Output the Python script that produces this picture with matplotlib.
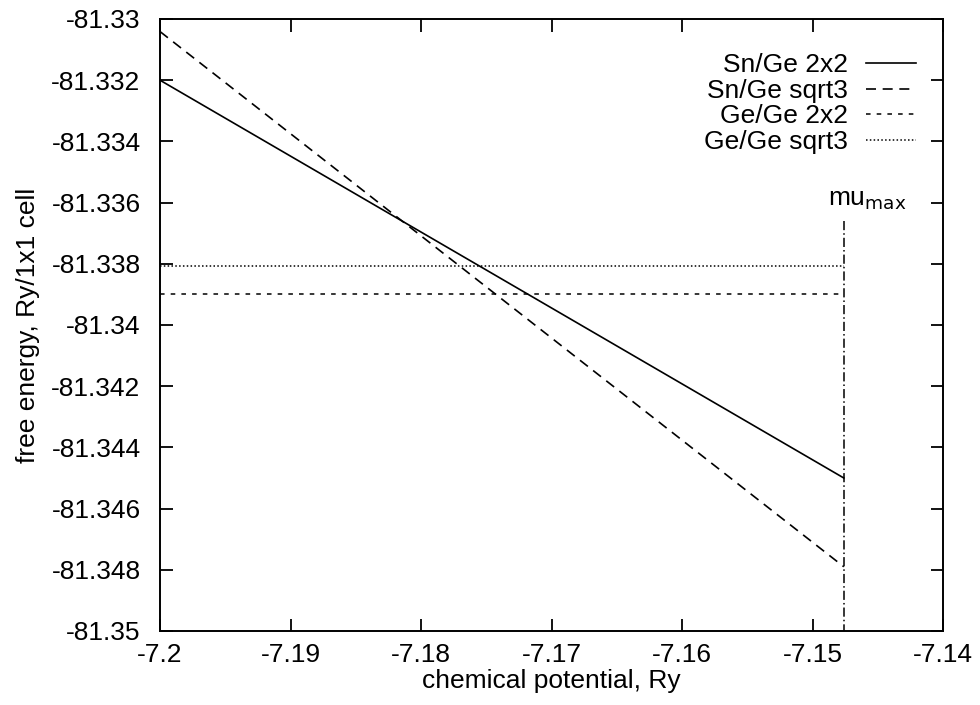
import matplotlib
matplotlib.use("Agg")
import matplotlib.pyplot as plt

# ==================================================
# DATA
# ==================================================

mu_range = [-7.2, -7.1476]
mu_max = -7.1476
mu_max_top = -81.3366

sn_ge_2x2 = [-81.33200, -81.34500]
sn_ge_sqrt3 = [-81.33041, -81.34790]
ge_ge_2x2 = [-81.33898, -81.33898]
ge_ge_sqrt3 = [-81.33807, -81.33807]

x_ticks = [-7.2, -7.19, -7.18, -7.17, -7.16, -7.15, -7.14]
x_labels = ["-7.2", "-7.19", "-7.18", "-7.17", "-7.16", "-7.15", "-7.14"]
y_ticks = [-81.35, -81.348, -81.346, -81.344, -81.342, -81.34,
           -81.338, -81.336, -81.334, -81.332, -81.33]
y_labels = ["-81.35", "-81.348", "-81.346", "-81.344", "-81.342", "-81.34",
            "-81.338", "-81.336", "-81.334", "-81.332", "-81.33"]

# ==================================================
# PLOT
# ==================================================

plt.rcParams["font.family"] = ["Liberation Sans", "DejaVu Sans"]
plt.rcParams["font.size"] = 19

fig = plt.figure(figsize=(9.8, 7.05), dpi=100)
# axes box: x 160..943 px, y 19..631 px
ax = fig.add_axes([160 / 980, 1 - 631 / 705, 783 / 980, 612 / 705])

ax.plot(mu_range, sn_ge_2x2, color="black", lw=1.2, label="Sn/Ge 2x2")
ax.plot(mu_range, sn_ge_sqrt3, color="black", lw=1.2,
        dashes=(6, 4), label="Sn/Ge sqrt3")
ax.plot(mu_range, ge_ge_2x2, color="black", lw=1.1,
        dashes=(3, 4), label="Ge/Ge 2x2")
ax.plot(mu_range, ge_ge_sqrt3, color="black", lw=1.1,
        dashes=(1, 1.5), label="Ge/Ge sqrt3")

ax.plot([mu_max, mu_max], [mu_max_top, -81.35], color="black", lw=1.1,
        dashes=(6, 2, 1, 2))
ax.text(-7.1488, mu_max_top + 0.0003, r"mu$_{\mathrm{max}}$",
        ha="left", va="bottom", fontsize=19)

ax.set_xlim(-7.2, -7.14)
ax.set_ylim(-81.35, -81.33)
ax.set_xticks(x_ticks)
ax.set_xticklabels(x_labels)
ax.set_yticks(y_ticks)
ax.set_yticklabels(y_labels)

ax.tick_params(direction="in", length=9, width=1.3, top=True, right=True,
               labelsize=19)
ax.tick_params(axis="x", pad=9)
ax.tick_params(axis="y", pad=14)
for spine in ax.spines.values():
    spine.set_linewidth(1.4)

ax.set_xlabel("chemical potential, Ry", fontsize=19, labelpad=1)
ax.set_ylabel("free energy, Ry/1x1 cell", fontsize=19, labelpad=8)

ax.legend(loc="upper right", bbox_to_anchor=(1.009, 1.0),
          frameon=False, markerfirst=False,
          handlelength=1.9, handletextpad=0.68, labelspacing=0.06,
          fontsize=19, borderaxespad=0.9)

fig.savefig("out.png", dpi=100)
